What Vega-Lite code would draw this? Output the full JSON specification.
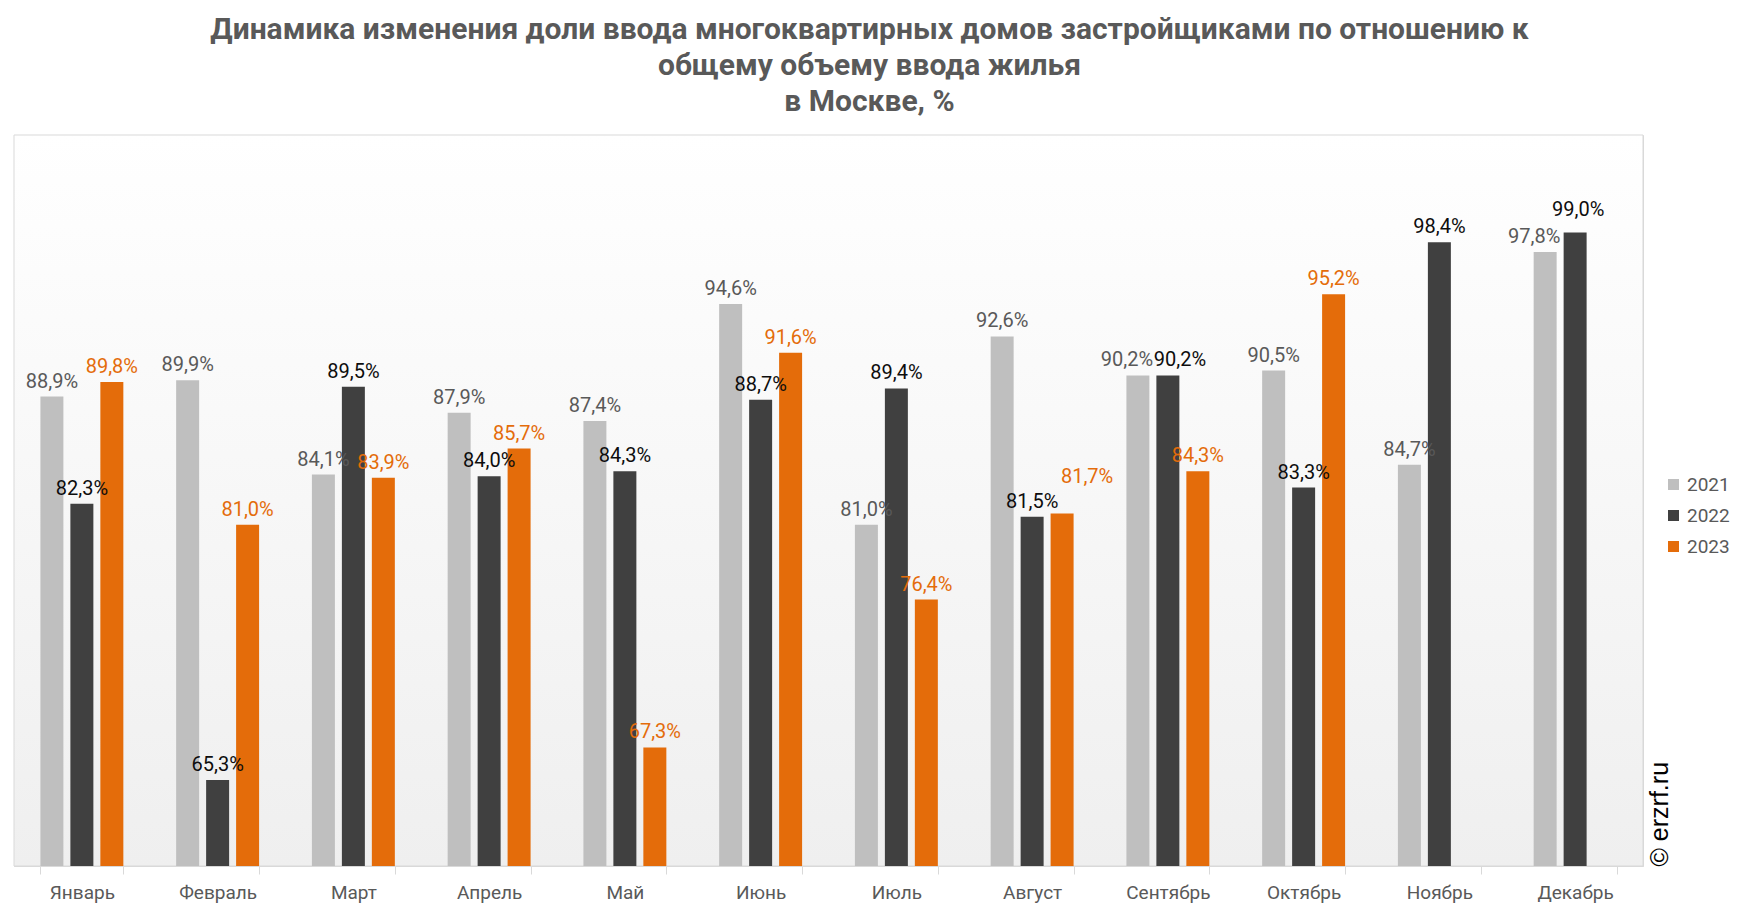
{
  "$schema": "https://vega.github.io/schema/vega-lite/v6.json",
  "width": 1629,
  "height": 731,
  "autosize": {"type": "none"},
  "padding": {"left": 14, "top": 135, "right": 98, "bottom": 46},
  "background": "white",
  "title": {
    "text": ["Динамика изменения доли ввода многоквартирных домов застройщиками по отношению к", "общему объему ввода жилья", "в Москве, %"],
    "font": "Roboto", "fontSize": 30, "fontWeight": "bold", "color": "#595959",
    "lineHeight": 36, "anchor": "middle", "frame": "group", "dx": 41, "offset": 18
  },
  "config": {
    "view": {"stroke": "#d9d9d9", "strokeWidth": 1}
  },
  "data": {"values": [
    {"month": "Январь", "year": "2021", "value": 88.9},
    {"month": "Январь", "year": "2022", "value": 82.3},
    {"month": "Январь", "year": "2023", "value": 89.8},
    {"month": "Февраль", "year": "2021", "value": 89.9},
    {"month": "Февраль", "year": "2022", "value": 65.3},
    {"month": "Февраль", "year": "2023", "value": 81.0},
    {"month": "Март", "year": "2021", "value": 84.1},
    {"month": "Март", "year": "2022", "value": 89.5},
    {"month": "Март", "year": "2023", "value": 83.9},
    {"month": "Апрель", "year": "2021", "value": 87.9},
    {"month": "Апрель", "year": "2022", "value": 84.0},
    {"month": "Апрель", "year": "2023", "value": 85.7},
    {"month": "Май", "year": "2021", "value": 87.4},
    {"month": "Май", "year": "2022", "value": 84.3},
    {"month": "Май", "year": "2023", "value": 67.3},
    {"month": "Июнь", "year": "2021", "value": 94.6},
    {"month": "Июнь", "year": "2022", "value": 88.7},
    {"month": "Июнь", "year": "2023", "value": 91.6},
    {"month": "Июль", "year": "2021", "value": 81.0},
    {"month": "Июль", "year": "2022", "value": 89.4},
    {"month": "Июль", "year": "2023", "value": 76.4},
    {"month": "Август", "year": "2021", "value": 92.6},
    {"month": "Август", "year": "2022", "value": 81.5},
    {"month": "Август", "year": "2023", "value": 81.7},
    {"month": "Сентябрь", "year": "2021", "value": 90.2},
    {"month": "Сентябрь", "year": "2022", "value": 90.2},
    {"month": "Сентябрь", "year": "2023", "value": 84.3},
    {"month": "Октябрь", "year": "2021", "value": 90.5},
    {"month": "Октябрь", "year": "2022", "value": 83.3},
    {"month": "Октябрь", "year": "2023", "value": 95.2},
    {"month": "Ноябрь", "year": "2021", "value": 84.7},
    {"month": "Ноябрь", "year": "2022", "value": 98.4},
    {"month": "Декабрь", "year": "2021", "value": 97.8},
    {"month": "Декабрь", "year": "2022", "value": 99.0}
  ]},
  "layer": [
    {
      "data": {"values": [{}]},
      "mark": {
        "type": "rect", "stroke": "#d9d9d9", "strokeWidth": 1,
        "color": {"gradient": "linear", "x1": 0, "y1": 0, "x2": 0, "y2": 1,
          "stops": [{"offset": 0, "color": "#ffffff"}, {"offset": 1, "color": "#efefef"}]}
      },
      "encoding": {}
    },
    {
      "mark": {"type": "bar"},
      "encoding": {
        "x": {"field": "month", "type": "nominal",
          "sort": ["Январь", "Февраль", "Март", "Апрель", "Май", "Июнь", "Июль", "Август", "Сентябрь", "Октябрь", "Ноябрь", "Декабрь"],
          "scale": {"paddingInner": 0.389, "paddingOuter": 0.1945},
          "axis": {"title": null, "labelAngle": 0, "labelFont": "Roboto", "labelFontSize": 19, "labelColor": "#595959", "labelPadding": 9,
            "tickBand": "extent", "tickSize": 8, "tickColor": "#d9d9d9", "domainColor": "#d9d9d9", "zindex": 1}},
        "xOffset": {"field": "year", "type": "nominal", "scale": {"paddingInner": 0.233, "paddingOuter": 0}},
        "y": {"field": "value", "type": "quantitative", "scale": {"domain": [60, 105], "zero": false, "nice": false},
          "axis": {"orient": "right", "title": "© erzrf.ru", "titleFont": "Liberation Sans", "titleFontSize": 25, "titleFontWeight": "normal",
            "titleColor": "#000000", "titleAngle": 270, "titleAnchor": "start", "titleBaseline": "top", "titlePadding": 4, "zindex": 1,
            "labels": false, "ticks": false, "domain": false, "grid": false}},
        "y2": {"datum": 60},
        "color": {"field": "year", "type": "nominal",
          "scale": {"domain": ["2021", "2022", "2023"], "range": ["#bfbfbf", "#404040", "#e46c0a"]},
          "legend": {"orient": "none", "legendX": 1650, "legendY": 340, "title": null, "symbolType": "square", "symbolSize": 121,
            "symbolStrokeWidth": 0, "labelFont": "Roboto", "labelFontSize": 19, "labelColor": "#595959", "rowPadding": 11}}
      }
    },
    {
      "transform": [
        {"calculate": "datum.month + '|' + datum.year", "as": "key"},
        {"filter": "indexof(['Август|2023', 'Сентябрь|2021', 'Сентябрь|2022', 'Декабрь|2021', 'Декабрь|2022'], datum.key) < 0"},
        {"calculate": "replace(format(datum.value, '.1f'), '.', ',') + '%'", "as": "label"}
      ],
      "mark": {"type": "text", "font": "Roboto", "fontSize": 20, "baseline": "bottom", "dy": -5},
      "encoding": {
        "x": {"field": "month", "type": "nominal",
          "sort": ["Январь", "Февраль", "Март", "Апрель", "Май", "Июнь", "Июль", "Август", "Сентябрь", "Октябрь", "Ноябрь", "Декабрь"]},
        "xOffset": {"field": "year", "type": "nominal"},
        "y": {"field": "value", "type": "quantitative"},
        "text": {"field": "label"},
        "color": {"condition": [{"test": "datum.year === '2021'", "value": "#595959"}, {"test": "datum.year === '2022'", "value": "#0d0d0d"}], "value": "#e46c0a"}
      }
    },
    {
      "transform": [
        {"filter": "datum.month === 'Август' && datum.year === '2023'"},
        {"calculate": "replace(format(datum.value, '.1f'), '.', ',') + '%'", "as": "label"}
      ],
      "mark": {"type": "text", "font": "Roboto", "fontSize": 20, "baseline": "bottom", "dy": -26, "dx": 25, "color": "#e46c0a"},
      "encoding": {
        "x": {"field": "month", "type": "nominal",
          "sort": ["Январь", "Февраль", "Март", "Апрель", "Май", "Июнь", "Июль", "Август", "Сентябрь", "Октябрь", "Ноябрь", "Декабрь"]},
        "xOffset": {"field": "year", "type": "nominal"},
        "y": {"field": "value", "type": "quantitative"},
        "text": {"field": "label"}
      }
    },
    {
      "transform": [
        {"filter": "(datum.month === 'Сентябрь' || datum.month === 'Декабрь') && datum.year === '2021'"},
        {"calculate": "replace(format(datum.value, '.1f'), '.', ',') + '%'", "as": "label"}
      ],
      "mark": {"type": "text", "font": "Roboto", "fontSize": 20, "baseline": "bottom", "dy": -5, "dx": -11, "color": "#595959"},
      "encoding": {
        "x": {"field": "month", "type": "nominal",
          "sort": ["Январь", "Февраль", "Март", "Апрель", "Май", "Июнь", "Июль", "Август", "Сентябрь", "Октябрь", "Ноябрь", "Декабрь"]},
        "xOffset": {"field": "year", "type": "nominal"},
        "y": {"field": "value", "type": "quantitative"},
        "text": {"field": "label"}
      }
    },
    {
      "transform": [
        {"filter": "datum.month === 'Сентябрь' && datum.year === '2022'"},
        {"calculate": "replace(format(datum.value, '.1f'), '.', ',') + '%'", "as": "label"}
      ],
      "mark": {"type": "text", "font": "Roboto", "fontSize": 20, "baseline": "bottom", "dy": -5, "dx": 12, "color": "#0d0d0d"},
      "encoding": {
        "x": {"field": "month", "type": "nominal",
          "sort": ["Январь", "Февраль", "Март", "Апрель", "Май", "Июнь", "Июль", "Август", "Сентябрь", "Октябрь", "Ноябрь", "Декабрь"]},
        "xOffset": {"field": "year", "type": "nominal"},
        "y": {"field": "value", "type": "quantitative"},
        "text": {"field": "label"}
      }
    },
    {
      "transform": [
        {"filter": "datum.month === 'Декабрь' && datum.year === '2022'"},
        {"calculate": "replace(format(datum.value, '.1f'), '.', ',') + '%'", "as": "label"}
      ],
      "mark": {"type": "text", "font": "Roboto", "fontSize": 20, "baseline": "bottom", "dy": -12, "dx": 3, "color": "#0d0d0d"},
      "encoding": {
        "x": {"field": "month", "type": "nominal",
          "sort": ["Январь", "Февраль", "Март", "Апрель", "Май", "Июнь", "Июль", "Август", "Сентябрь", "Октябрь", "Ноябрь", "Декабрь"]},
        "xOffset": {"field": "year", "type": "nominal"},
        "y": {"field": "value", "type": "quantitative"},
        "text": {"field": "label"}
      }
    }
  ]
}
